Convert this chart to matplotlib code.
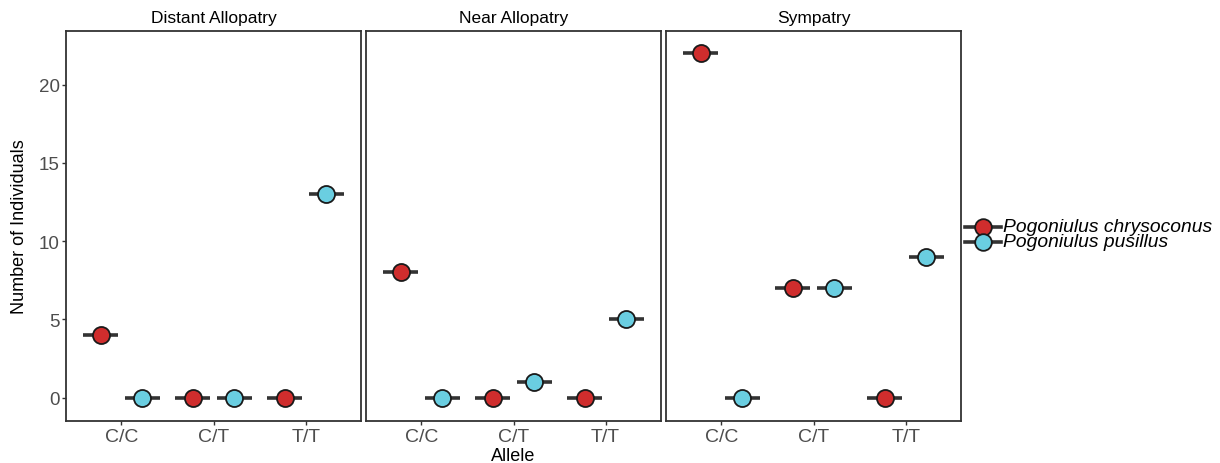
import matplotlib
matplotlib.use("Agg")
import matplotlib.pyplot as plt
from matplotlib.lines import Line2D
import numpy as np

plt.rcParams['font.family'] = ['Liberation Sans', 'DejaVu Sans']

# Facets, genotype categories and counts per species
regions = ["Distant Allopatry", "Near Allopatry", "Sympatry"]
genotypes = ["C/C", "C/T", "T/T"]
species = ["Pogoniulus chrysoconus", "Pogoniulus pusillus"]
chrysoconus_counts = [
    [4, 0, 0],
    [8, 0, 0],
    [22, 7, 0],
]
pusillus_counts = [
    [0, 0, 13],
    [0, 1, 5],
    [0, 7, 9],
]
y_ticks = [0, 5, 10, 15, 20]

colors = ["#CF2D2D", "#6ACEE1"]
dodge = [-0.225, 0.225]
bar_half = 0.19
bar_color = "#333333"
tick_gray = "#4D4D4D"

fig = plt.figure(figsize=(12.2, 4.64), dpi=100)

panel_left = [66 / 1220, 366 / 1220, 666 / 1220]
panel_w = 295 / 1220
panel_b = 1 - 421.7 / 464
panel_h = (421.7 - 32.3) / 464

x = np.arange(1, len(genotypes) + 1)
series = [chrysoconus_counts, pusillus_counts]

for i, region in enumerate(regions):
    ax = fig.add_axes([panel_left[i], panel_b, panel_w, panel_h])
    for s, counts in enumerate(series):
        vals = np.array(counts[i], dtype=float)
        xs = x + dodge[s]
        ax.hlines(vals, xs - bar_half, xs + bar_half, color=bar_color,
                  lw=2.6, zorder=2, capstyle='butt')
        ax.scatter(xs, vals, s=150, color=colors[s], edgecolor="#1a1a1a",
                   linewidth=1.3, zorder=3)
    ax.set_xlim(0.4, 3.6)
    ax.set_ylim(-1.48, 23.4)
    ax.set_xticks(x)
    ax.set_xticklabels(genotypes, fontsize=14, color=tick_gray)
    ax.set_yticks(y_ticks)
    if i == 0:
        ax.set_yticklabels([str(t) for t in y_ticks], fontsize=13.5, color=tick_gray)
        ax.tick_params(axis='y', length=3, width=1, color=bar_color, pad=1.5)
    else:
        ax.tick_params(axis='y', left=False, labelleft=False)
    ax.tick_params(axis='x', length=3, width=1, color=bar_color, pad=2)
    for sp in ax.spines.values():
        sp.set_color(bar_color)
        sp.set_linewidth(1.3)
    ax.set_title(region, fontsize=12.5, pad=6.5)
    if i == 0:
        ax.set_ylabel("Number of Individuals", fontsize=13, labelpad=8)
    if i == 1:
        ax.set_xlabel("Allele", fontsize=13, labelpad=1.5)

# Legend keys: bar segment with a circle on top
leg_y = [1 - 228 / 464, 1 - 243 / 464]
for s, name in enumerate(species):
    y = leg_y[s]
    fig.add_artist(Line2D([965 / 1220, 1001 / 1220], [y, y], color=bar_color,
                          lw=2.6, transform=fig.transFigure))
    fig.add_artist(Line2D([983 / 1220], [y], marker='o', markersize=12,
                          markerfacecolor=colors[s], markeredgecolor="#1a1a1a",
                          markeredgewidth=1.3, linestyle='none',
                          transform=fig.transFigure))
    fig.text(1003 / 1220, y, name, fontsize=13.9, style='italic',
             va='center', ha='left')

fig.savefig("out.png", dpi=100, facecolor="white")
